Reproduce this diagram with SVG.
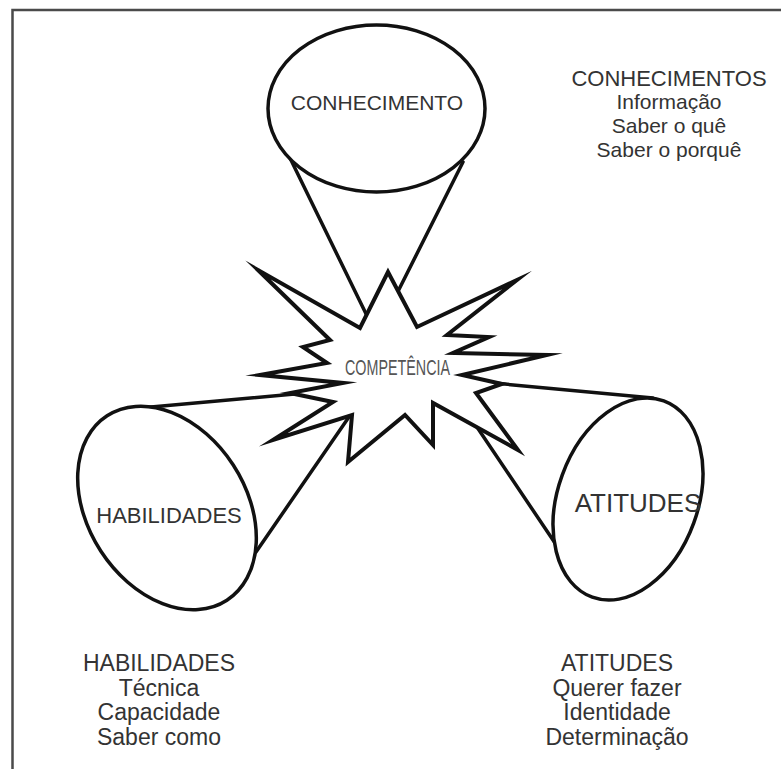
<svg xmlns="http://www.w3.org/2000/svg" width="781" height="769" viewBox="0 0 781 769">
<style>
.frame{fill:none;stroke:#4a4a4a;stroke-width:2.5}
.cone{stroke:#111;stroke-width:3.5;fill:none;stroke-linecap:round}
.ell{fill:#fff;stroke:#111;stroke-width:3.5}
.star{fill:#fff;stroke:#111;stroke-width:4;stroke-linejoin:miter;stroke-miterlimit:20}
text{font-family:"Liberation Sans",Arial,sans-serif;fill:#333;text-anchor:middle}
.t21{font-size:21px}.t22{font-size:22px}.t23{font-size:23px}.t26{font-size:26px}
</style>
<rect x="0" y="0" width="781" height="769" fill="#fff"/>
<rect class="frame" x="12.5" y="10" width="800" height="800"/>
<g id="connectors">
<line class="cone" x1="290" y1="158" x2="391" y2="365"/>
<line class="cone" x1="463" y1="162" x2="361" y2="365"/>
<line class="cone" x1="140" y1="408" x2="360" y2="388"/>
<line class="cone" x1="256" y1="552" x2="362" y2="398"/>
<line class="cone" x1="653" y1="398" x2="440" y2="378"/>
<line class="cone" x1="555" y1="543" x2="450" y2="387"/>
</g>
<g id="conhecimento">
<ellipse class="ell" cx="376.5" cy="108.5" rx="108.5" ry="83.5"/>
<text class="t21" x="377" y="110">CONHECIMENTO</text>
</g>
<g id="habilidades">
<ellipse class="ell" cx="0" cy="0" rx="79" ry="110" transform="translate(167 508) rotate(-33)"/>
<text class="t22" x="169" y="523">HABILIDADES</text>
</g>
<g id="atitudes">
<ellipse class="ell" cx="0" cy="0" rx="70" ry="104.5" transform="translate(628 499) rotate(20)"/>
<text class="t26" x="638" y="512">ATITUDES</text>
</g>
<g id="competencia">
<path class="star" d="M388,272 L417,327 L517,280 L447,335 L489,337 L453,353 L547,355 L462,375 L502,384 L476,393 L518,450 L433,403 L433,445 L405,415 L348,462 L352,415 L273,440 L333,402 L290,393 L343,383 L260,375 L327,363 L303,347 L330,340 L258,270 L360,328 Z"/>
<text x="397.5" y="375" style="font-size:22px;fill:#555" textLength="105" lengthAdjust="spacingAndGlyphs">COMPETÊNCIA</text>
</g>
<g id="legend-conhecimentos">
<text class="t22" x="669" y="86">CONHECIMENTOS</text>
<text class="t21" x="669" y="109">Informação</text>
<text class="t21" x="669" y="133">Saber o quê</text>
<text class="t21" x="669" y="157">Saber o porquê</text>
</g>
<g id="legend-habilidades">
<text class="t23" x="159" y="671">HABILIDADES</text>
<text class="t23" x="159" y="696">Técnica</text>
<text class="t23" x="159" y="720">Capacidade</text>
<text class="t23" x="159" y="745">Saber como</text>
</g>
<g id="legend-atitudes">
<text class="t23" x="617" y="671">ATITUDES</text>
<text class="t23" x="617" y="696">Querer fazer</text>
<text class="t23" x="617" y="720">Identidade</text>
<text class="t23" x="617" y="745">Determinação</text>
</g>
</svg>
